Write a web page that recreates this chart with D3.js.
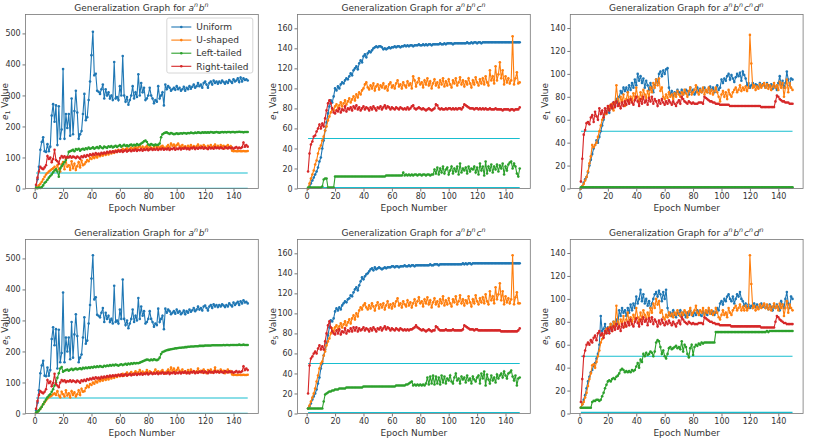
<!DOCTYPE html>
<html>
<head>
<meta charset="utf-8">
<script src="https://cdn.jsdelivr.net/npm/d3@7"></script>
<style>
body { margin: 0; background: #fff; }
svg { display: block; font-family: "DejaVu Sans", sans-serif; }
.tick text { font-size: 8px; fill: #333; }
.tick line { stroke: #555; stroke-width: 0.8; }
</style>
</head>
<body>
<svg id="chart" width="814" height="438"></svg>
<script>
// series order: Uniform, U-shaped, Left-tailed, Right-tailed
const seriesNames = ["Uniform", "U-shaped", "Left-tailed", "Right-tailed"];
const seriesColors = ["#1f77b4", "#ff7f0e", "#2ca02c", "#d62728"];
const trainLimits = [1, 50];

// ---- e1, a^n b^n ----
const uniE1AB = [
  8, 30, 70, 125, 150, 165, 120, 118, 143, 120,
  135, 235, 272, 215, 268, 140, 265, 160, 190, 385,
  160, 240, 195, 240, 170, 290, 175, 250, 315, 245,
  160, 175, 185, 240, 305, 220, 230, 285, 345, 430,
  505, 365, 370, 315, 312, 305, 320, 335, 290, 320,
  300, 310, 290, 300, 285, 408, 290, 295, 285, 330,
  300, 427, 300, 280, 295, 270, 285, 300, 330, 290,
  310, 295, 368, 300, 340, 310, 325, 285, 290, 300,
  325, 300, 290, 275, 285, 280, 330, 290, 300, 310,
  268, 335, 320, 330, 325, 315, 320, 325, 318, 330,
  320, 325, 315, 320, 328, 315, 325, 320, 330, 322,
  328, 335, 325, 330, 340, 330, 335, 325, 340, 345,
  335, 325, 340, 345, 335, 348, 340, 345, 338, 345,
  340, 348, 343, 338, 345, 340, 350, 345, 340, 352,
  345, 348, 355, 343, 358, 345, 355, 350, 352, 348
];
const ushE1AB = [
  2, 5, 10, 15, 22, 30, 38, 45, 50, 55,
  58, 62, 65, 70, 60, 75, 62, 55, 78, 85,
  62, 95, 70, 75, 60, 88, 65, 80, 60, 72,
  85, 68, 90, 75, 78, 85, 92, 88, 98, 95,
  102, 98, 105, 100, 108, 104, 110, 106, 112, 108,
  115, 110, 118, 113, 120, 115, 122, 118, 125, 120,
  123, 128, 122, 126, 130, 124, 128, 132, 126, 130,
  135, 128, 133, 138, 130, 135, 128, 133, 138, 130,
  136, 131, 128, 134, 140, 132, 136, 130, 135, 138,
  132, 128, 135, 140, 133, 145, 138, 142, 135, 140,
  145, 138, 134, 140, 132, 136, 130, 138, 134, 140,
  133, 137, 131, 136, 142, 134, 138, 132, 140, 135,
  130, 138, 134, 140, 132, 136, 142, 134, 138, 132,
  140, 135, 138, 130, 136, 140, 133, 137, 122, 120,
  121, 120, 120, 121, 120, 120, 121, 120, 120, 121
];
const leftE1AB = [
  2, 1, 3, 2, 5, 10, 18, 22, 28, 35,
  40, 45, 52, 58, 62, 55, 38, 65, 72, 78,
  85, 92, 100, 118, 120, 122, 125, 120, 127, 125,
  128, 122, 126, 128, 125, 130, 127, 132, 128, 130,
  133, 128, 131, 134, 130, 136, 132, 130, 135, 133,
  131, 136, 134, 137, 132, 135, 138, 134, 137, 140,
  135, 138, 141, 137, 139, 136, 140, 142, 138, 141,
  139, 143, 140, 142, 145, 148, 152, 155, 150, 142,
  140, 143, 141, 139, 142, 140, 141, 145, 165, 175,
  178, 180, 181, 178, 176, 179, 177, 175, 176, 178,
  176, 177, 178, 177, 179, 178, 177, 179, 178, 180,
  179, 178, 180, 179, 181, 180, 179, 181, 180, 181,
  180, 181, 180, 182, 181, 180, 181, 182, 181, 180,
  181, 182, 181, 182, 181, 182, 182, 181, 182, 182,
  181, 182, 182, 183, 182, 182, 181, 182, 182, 182
];
const rightE1AB = [
  12, 35, 55, 70, 65, 62, 68, 75, 105, 95,
  100, 85, 95, 125, 92, 88, 80, 98, 105, 100,
  104, 98, 102, 100, 104, 99, 103, 101, 98, 103,
  100, 96, 104, 101, 106, 102, 108, 105, 110, 107,
  112, 108, 114, 110, 113, 109, 115, 112, 116, 113,
  118, 115, 119, 116, 120, 117, 121, 118, 122, 119,
  123, 118, 121, 124, 119, 122, 125, 120, 124, 122,
  126, 121, 125, 123, 127, 122, 126, 124, 128, 123,
  126, 129, 124, 127, 125, 129, 124, 128, 126, 130,
  125, 128, 126, 130, 124, 128, 127, 131, 125, 129,
  127, 131, 126, 130, 128, 132, 127, 130, 126, 131,
  129, 133, 127, 131, 128, 132, 130, 134, 128, 132,
  130, 127, 133, 129, 131, 128, 134, 130, 132, 129,
  133, 130, 128, 134, 131, 129, 133, 130, 132, 128,
  131, 134, 129, 132, 130, 133, 148, 135, 140, 135
];

// ---- e1, a^n b^n c^n ----
const uniE1ABC = [
  0, 2, 5, 8, 11, 14, 17, 21, 27, 31,
  40, 48, 58, 66, 75, 82, 88, 86, 92, 100,
  98, 102, 100, 104, 106, 105, 108, 110, 109, 112,
  115, 113, 118, 120, 122, 119, 125, 128, 126, 132,
  134, 131, 135, 137, 136, 138, 140, 141, 142, 141,
  142, 142, 141, 139, 140, 139, 140, 141, 140, 141,
  141, 142, 141, 142, 142, 141, 142, 142, 143, 142,
  143, 142, 143, 143, 142, 143, 143, 143, 144, 143,
  143, 144, 143, 144, 143, 144, 144, 143, 144, 144,
  144, 144, 144, 145, 144, 144, 145, 144, 145, 145,
  145, 145, 144, 145, 145, 145, 145, 145, 145, 145,
  145, 145, 146, 145, 145, 146, 145, 146, 146, 145,
  146, 146, 145, 146, 146, 146, 146, 146, 146, 146,
  146, 146, 146, 146, 146, 146, 146, 146, 146, 146,
  146, 146, 146, 146, 146, 146, 146, 146, 146, 146
];
const ushE1ABC = [
  0, 5, 10, 14, 18, 24, 28, 35, 40, 43,
  48, 52, 58, 62, 68, 72, 76, 80, 78, 82,
  84, 80, 83, 86, 82, 85, 88, 84, 87, 90,
  86, 89, 92, 88, 94, 91, 96, 94, 98, 100,
  104, 106, 101, 99, 103, 100, 105, 98, 102, 104,
  99, 103, 101, 105, 100, 102, 98, 104, 106, 101,
  103, 100, 105, 108, 102, 104, 100, 106, 103, 101,
  107, 103, 105, 100, 112, 108, 102, 106, 110, 104,
  106, 101, 108, 104, 110, 103, 107, 100, 105, 109,
  103, 106, 101, 108, 104, 110, 102, 107, 103, 109,
  104, 101, 108, 105, 110, 103, 106, 111, 104, 108,
  102, 107, 104, 110, 105, 101, 108, 104, 111, 106,
  103, 109, 105, 110, 104, 112, 106, 103, 118, 108,
  112, 105, 122, 108, 114, 126, 110, 118, 104, 112,
  106, 110, 105, 108, 152, 104, 110, 116, 105, 106
];
const leftE1ABC = [
  1, 1, 1, 1, 1, 1, 1, 1, 1, 1,
  2, 9, 10, 10, 1, 1, 1, 1, 1, 12,
  12, 12, 12, 12, 12, 12, 12, 12, 12, 12,
  12, 12, 12, 12, 12, 12, 12, 12, 12, 12,
  12, 12, 12, 12, 12, 12, 12, 12, 12, 12,
  12, 12, 12, 12, 12, 13, 13, 13, 13, 13,
  13, 13, 13, 13, 13, 13, 13, 16, 13, 14,
  13, 14, 13, 14, 13, 14, 14, 13, 14, 14,
  13, 14, 14, 13, 14, 14, 13, 14, 14, 19,
  15, 21, 14, 20, 16, 22, 15, 19, 21, 14,
  18, 22, 15, 20, 17, 22, 14, 25, 16, 20,
  18, 21, 15, 22, 17, 20, 19, 22, 16, 21,
  14, 25, 18, 22, 13, 27, 15, 22, 18, 24,
  16, 22, 19, 24, 17, 23, 20, 25, 14, 22,
  18, 24, 26, 27, 20, 25, 22, 15, 12, 20
];
const rightE1ABC = [
  17, 35, 44, 47, 52, 53, 57, 60, 64, 60,
  65, 62, 70, 78, 85, 88, 85, 80, 76, 75,
  78, 77, 80, 76, 79, 78, 82, 77, 80, 79,
  81, 78, 82, 80, 83, 79, 81, 78, 80, 82,
  79, 81, 80, 78, 81, 79, 82, 80, 78, 81,
  80, 82, 79, 81, 83, 80, 82, 81, 79, 81,
  80, 79, 81, 80, 79, 81, 80, 79, 80, 79,
  81, 79, 80, 82, 83, 80, 79, 80, 81, 80,
  79, 80, 79, 78, 79, 80, 79, 78, 79, 80,
  84, 83, 80, 79, 80, 79, 79, 80, 79, 80,
  80, 79, 80, 79, 80, 79, 80, 80, 79, 81,
  84, 83, 82, 81, 80, 80, 80, 79, 80, 80,
  79, 80, 79, 80, 79, 80, 79, 79, 80, 79,
  79, 79, 80, 79, 79, 79, 79, 78, 79, 79,
  79, 79, 78, 79, 79, 78, 79, 79, 79, 81
];

// ---- e1, a^n b^n c^n d^n ----
const uniE1ABCD = [
  0, 2, 5, 8, 10, 14, 20, 25, 30, 35,
  38, 42, 40, 45, 50, 55, 60, 65, 67, 70,
  66, 72, 70, 75, 72, 78, 75, 80, 85, 83,
  88, 85, 88, 84, 90, 86, 92, 88, 95, 90,
  100, 94, 98, 92, 96, 88, 94, 90, 86, 92,
  88, 84, 90, 95, 92, 100, 102, 98, 103, 100,
  104, 105, 88, 82, 85, 80, 84, 82, 86, 84,
  83, 86, 82, 84, 86, 85, 82, 88, 84, 86,
  82, 84, 88, 85, 87, 84, 86, 88, 85, 84,
  87, 89, 86, 88, 84, 87, 90, 86, 88, 95,
  92, 96, 94, 98, 100, 95, 99, 96, 93, 97,
  100, 98, 101, 94, 102, 99, 96, 90, 92, 88,
  90, 92, 89, 91, 90, 88, 92, 89, 91, 90,
  88, 92, 90, 89, 91, 87, 90, 88, 86, 92,
  98, 90, 94, 88, 92, 102, 95, 90, 96, 95
];
const ushE1ABCD = [
  0, 2, 4, 7, 10, 15, 22, 28, 38, 36,
  38, 40, 45, 50, 55, 60, 62, 66, 65, 70,
  72, 70, 74, 68, 75, 90, 78, 72, 80, 76,
  82, 72, 78, 84, 75, 80, 76, 83, 78, 88,
  80, 76, 84, 78, 86, 82, 79, 85, 80, 88,
  84, 92, 88, 95, 90, 96, 85, 88, 80, 78,
  82, 79, 84, 80, 82, 78, 83, 80, 85, 82,
  80, 84, 82, 86, 83, 80, 85, 88, 82, 84,
  86, 90, 84, 82, 86, 84, 88, 82, 86, 84,
  88, 83, 86, 82, 85, 88, 84, 80, 76, 82,
  85, 80, 84, 78, 86, 82, 80, 84, 86, 88,
  84, 86, 90, 85, 88, 86, 89, 85, 88, 134,
  109, 88, 90, 86, 89, 87, 91, 88, 90, 92,
  88, 91, 87, 90, 86, 89, 92, 88, 90, 86,
  93, 88, 92, 80, 88, 95, 84, 92, 88, 86
];
const leftE1ABCD = [
  1, 1, 1, 1, 1, 1, 1, 1, 1, 1,
  1, 1, 1, 1, 1, 1, 1, 1, 1, 1,
  1, 1, 1, 1, 1, 1, 1, 1, 1, 1,
  1, 1, 1, 1, 1, 1, 1, 1, 1, 1,
  1, 1, 1, 1, 1, 1, 1, 1, 1, 1,
  1, 1, 1, 1, 1, 1, 1, 1, 1, 1,
  1, 1, 1, 1, 1, 1, 1, 1, 1, 1,
  1, 1, 1, 1, 1, 1, 1, 1, 1, 1,
  1, 1, 1, 1, 1, 1, 1, 1, 1, 1,
  1, 1, 1, 1, 1, 1, 1, 1, 1, 1,
  1, 1, 1, 1, 1, 1, 1, 1, 1, 1,
  1, 1, 1, 1, 1, 1, 1, 1, 1, 1,
  1, 1, 1, 1, 1, 1, 1, 1, 1, 1,
  1, 1, 1, 1, 1, 1, 1, 1, 1, 1,
  1, 1, 1, 1, 1, 1, 1, 1, 1, 1
];
const rightE1ABCD = [
  6, 26, 47, 51, 57, 58, 56, 62, 64, 58,
  67, 63, 60, 70, 65, 68, 62, 70, 66, 72,
  68, 73, 70, 75, 71, 76, 72, 74, 70, 75,
  72, 76, 73, 77, 74, 78, 75, 73, 77, 80,
  76, 72, 78, 74, 80, 75, 77, 73, 79, 76,
  80, 74, 78, 76, 72, 77, 74, 78, 75, 73,
  76, 74, 77, 75, 73, 76, 74, 72, 75, 77,
  74, 80, 78, 76, 75, 74, 76, 75, 74, 75,
  74, 74, 74, 75, 75, 75, 74, 80, 79, 78,
  77, 76, 76, 75, 75, 74, 74, 74, 73, 73,
  73, 73, 73, 73, 73, 72, 72, 72, 72, 72,
  72, 72, 72, 72, 72, 72, 72, 72, 72, 72,
  72, 72, 72, 72, 72, 72, 72, 71, 71, 71,
  71, 71, 71, 71, 71, 71, 71, 76, 81, 80,
  78, 77, 76, 76, 75, 75, 75, 74, 74, 74
];

// ---- e5, a^n b^n ----
const uniE5AB = [
  10, 35, 75, 130, 155, 170, 122, 120, 148, 122,
  140, 240, 278, 220, 272, 145, 270, 165, 195, 390,
  165, 245, 200, 245, 175, 295, 180, 255, 320, 250,
  165, 180, 190, 245, 310, 225, 235, 290, 350, 435,
  510, 368, 375, 318, 315, 310, 325, 340, 295, 325,
  305, 315, 295, 305, 290, 412, 295, 300, 290, 335,
  305, 432, 305, 285, 300, 275, 290, 305, 335, 295,
  315, 300, 372, 305, 345, 315, 330, 290, 295, 305,
  330, 305, 295, 280, 290, 285, 338, 295, 305, 315,
  272, 338, 325, 335, 330, 320, 325, 330, 322, 335,
  325, 330, 320, 325, 332, 320, 330, 325, 335, 328,
  333, 340, 330, 335, 345, 335, 340, 332, 345, 348,
  340, 332, 345, 350, 340, 352, 345, 350, 343, 350,
  345, 352, 348, 343, 350, 345, 355, 350, 345, 358,
  350, 355, 360, 350, 362, 355, 365, 358, 360, 355
];
const ushE5AB = [
  2, 5, 10, 16, 22, 30, 36, 42, 48, 52,
  55, 58, 62, 65, 60, 72, 58, 52, 70, 62,
  55, 75, 58, 65, 52, 72, 60, 68, 55, 62,
  75, 60, 80, 70, 72, 82, 90, 85, 95, 92,
  100, 96, 104, 100, 108, 104, 110, 106, 112, 108,
  115, 110, 118, 113, 120, 115, 122, 118, 125, 120,
  123, 128, 122, 126, 132, 124, 128, 134, 126, 130,
  136, 128, 133, 140, 130, 135, 128, 133, 140, 130,
  136, 131, 128, 134, 142, 132, 136, 130, 135, 140,
  132, 128, 135, 142, 133, 148, 138, 145, 135, 140,
  147, 138, 134, 142, 132, 136, 130, 140, 134, 142,
  133, 137, 131, 136, 145, 134, 138, 132, 142, 135,
  130, 140, 134, 142, 132, 136, 148, 134, 138, 132,
  142, 135, 138, 130, 136, 142, 133, 137, 126, 124,
  125, 124, 124, 125, 124, 124, 125, 124, 124, 125
];
const leftE5AB = [
  3, 6, 10, 15, 22, 30, 38, 45, 52, 58,
  62, 70, 78, 90, 100, 115, 130, 145, 150, 135,
  138, 140, 142, 138, 141, 144, 140, 143, 145, 142,
  144, 146, 143, 147, 145, 148, 146, 149, 147, 150,
  148, 151, 149, 152, 150, 153, 151, 150, 154, 152,
  155, 153, 156, 154, 157, 155, 158, 156, 154, 157,
  159, 156, 158, 160, 157, 161, 159, 162, 160, 163,
  161, 163, 162, 164, 166, 168, 170, 172, 174, 173,
  171, 174, 172, 175, 173, 172, 174, 180, 192, 198,
  200, 202, 204, 205, 206, 207, 208, 209, 210, 210,
  211, 212, 212, 213, 213, 214, 214, 215, 215, 216,
  216, 216, 217, 217, 217, 218, 218, 218, 218, 219,
  219, 219, 219, 219, 220, 220, 220, 220, 220, 220,
  220, 220, 221, 220, 221, 221, 220, 221, 221, 221,
  221, 221, 221, 222, 221, 221, 222, 221, 221, 221
];
const rightE5AB = [
  15, 40, 60, 72, 68, 65, 70, 78, 108, 98,
  103, 88, 98, 128, 95, 90, 85, 100, 108, 104,
  107, 101, 105, 103, 107, 102, 106, 104, 101, 106,
  103, 99, 107, 104, 109, 105, 111, 108, 113, 110,
  115, 111, 117, 113, 116, 112, 118, 115, 119, 116,
  121, 118, 122, 119, 123, 120, 124, 121, 125, 122,
  126, 121, 124, 127, 122, 125, 128, 123, 127, 125,
  129, 124, 128, 126, 130, 125, 129, 127, 131, 126,
  129, 132, 127, 130, 128, 132, 127, 131, 129, 133,
  128, 131, 129, 133, 127, 131, 130, 134, 128, 132,
  130, 134, 129, 133, 131, 135, 130, 133, 129, 134,
  132, 136, 130, 134, 131, 135, 133, 137, 131, 135,
  133, 130, 136, 132, 134, 131, 137, 133, 135, 132,
  136, 133, 131, 137, 134, 132, 136, 133, 135, 131,
  134, 137, 132, 135, 133, 136, 152, 140, 145, 140
];

// ---- e5, a^n b^n c^n ----
const uniE5ABC = [
  5, 7, 10, 14, 17, 20, 24, 30, 36, 45,
  50, 58, 64, 70, 78, 86, 93, 92, 95, 102,
  105, 103, 106, 104, 108, 110, 112, 111, 114, 115,
  118, 117, 121, 124, 126, 123, 128, 132, 136, 134,
  137, 139, 140, 142, 144, 145, 143, 146, 144, 145,
  146, 145, 144, 145, 146, 145, 146, 146, 146, 147,
  147, 146, 147, 147, 146, 147, 147, 147, 148, 147,
  147, 148, 147, 148, 148, 147, 148, 148, 148, 148,
  148, 148, 148, 148, 148, 148, 149, 148, 148, 149,
  149, 149, 148, 149, 149, 149, 149, 149, 149, 149,
  149, 149, 149, 149, 149, 149, 149, 149, 149, 150,
  149, 150, 149, 150, 150, 149, 150, 150, 150, 150,
  150, 150, 150, 150, 150, 150, 150, 150, 150, 150,
  150, 150, 150, 150, 150, 150, 150, 150, 150, 150,
  150, 150, 150, 150, 150, 150, 150, 150, 150, 150
];
const ushE5ABC = [
  5, 8, 12, 16, 20, 25, 32, 38, 45, 50,
  52, 58, 62, 68, 72, 75, 80, 85, 82, 86,
  88, 84, 87, 90, 86, 89, 92, 88, 91, 94,
  90, 95, 98, 94, 100, 97, 103, 106, 104, 108,
  110, 106, 104, 108, 105, 110, 107, 103, 108, 111,
  105, 109, 106, 110, 104, 108, 112, 106, 109, 105,
  110, 107, 112, 115, 108, 110, 106, 112, 109, 107,
  113, 108, 111, 106, 110, 114, 108, 112, 116, 110,
  112, 107, 114, 110, 116, 109, 113, 106, 111, 115,
  109, 112, 107, 114, 110, 117, 108, 113, 109, 115,
  110, 107, 114, 111, 117, 109, 112, 118, 110, 114,
  108, 113, 110, 117, 111, 107, 114, 110, 118, 112,
  109, 115, 111, 116, 110, 119, 112, 109, 122, 113,
  117, 110, 126, 114, 119, 130, 113, 122, 109, 117,
  111, 115, 110, 114, 158, 109, 116, 121, 110, 110
];
const leftE5ABC = [
  5, 5, 5, 5, 5, 5, 5, 5, 5, 5,
  5, 12, 19, 20, 21, 22, 22, 23, 23, 24,
  24, 24, 25, 25, 25, 25, 25, 26, 26, 26,
  26, 26, 26, 26, 26, 26, 26, 26, 26, 27,
  27, 27, 27, 27, 27, 27, 27, 27, 27, 27,
  27, 27, 27, 27, 27, 27, 27, 27, 27, 27,
  27, 27, 28, 28, 28, 28, 28, 28, 28, 29,
  29, 30, 31, 32, 28, 29, 28, 29, 28, 29,
  28, 29, 28, 30, 36, 29, 37, 30, 38, 29,
  37, 30, 36, 29, 38, 31, 37, 30, 35, 33,
  38, 32, 30, 36, 40, 33, 35, 30, 37, 34,
  36, 31, 38, 33, 35, 30, 37, 34, 32, 36,
  38, 30, 40, 35, 42, 28, 39, 34, 30, 38,
  33, 36, 31, 39, 35, 38, 40, 36, 42, 38,
  35, 40, 41, 43, 37, 33, 38, 28, 35, 36
];
const rightE5ABC = [
  20, 48, 55, 57, 60, 62, 60, 65, 68, 64,
  67, 64, 72, 80, 88, 92, 86, 82, 80, 79,
  83, 80, 84, 79, 82, 81, 85, 80, 83, 82,
  85, 82, 86, 83, 86, 82, 85, 83, 84, 86,
  83, 85, 84, 82, 85, 83, 86, 84, 82, 85,
  84, 86, 83, 85, 87, 84, 86, 85, 83, 85,
  84, 83, 85, 84, 83, 85, 84, 83, 84, 83,
  84, 83, 84, 84, 85, 86, 88, 86, 85, 84,
  83, 84, 83, 82, 83, 84, 83, 82, 83, 83,
  87, 86, 84, 83, 83, 83, 83, 84, 83, 83,
  83, 83, 84, 83, 83, 83, 83, 83, 83, 84,
  88, 87, 86, 85, 84, 84, 84, 83, 84, 84,
  83, 83, 83, 83, 83, 83, 83, 83, 83, 83,
  83, 83, 83, 83, 83, 83, 82, 82, 82, 82,
  82, 82, 82, 82, 82, 82, 82, 82, 83, 85
];

// ---- e5, a^n b^n c^n d^n ----
const uniE5ABCD = [
  5, 8, 12, 16, 22, 28, 32, 36, 38, 42,
  44, 48, 52, 60, 85, 72, 74, 78, 70, 75,
  72, 78, 74, 80, 76, 82, 78, 90, 85, 92,
  88, 90, 85, 92, 88, 95, 90, 96, 92, 102,
  96, 100, 108, 98, 104, 96, 100, 94, 98, 92,
  96, 100, 104, 106, 102, 107, 104, 98, 106, 100,
  108, 92, 86, 88, 85, 90, 86, 84, 88, 86,
  90, 85, 88, 86, 84, 88, 86, 90, 87, 85,
  88, 86, 90, 88, 86, 85, 89, 87, 88, 86,
  90, 88, 87, 89, 86, 88, 92, 90, 96, 98,
  95, 100, 98, 102, 104, 100, 98, 102, 96, 100,
  104, 102, 106, 100, 98, 94, 96, 92, 95, 92,
  94, 92, 96, 93, 95, 92, 94, 96, 93, 95,
  92, 94, 91, 95, 93, 90, 94, 92, 95, 93,
  90, 98, 95, 92, 100, 106, 96, 92, 102, 100
];
const ushE5ABCD = [
  5, 8, 10, 14, 18, 24, 30, 35, 42, 43,
  40, 45, 50, 55, 62, 65, 68, 70, 74, 72,
  75, 78, 72, 80, 76, 94, 80, 76, 82, 78,
  85, 76, 82, 88, 80, 84, 78, 86, 82, 92,
  84, 80, 88, 82, 90, 86, 82, 88, 84, 92,
  88, 96, 92, 100, 95, 98, 88, 90, 84, 82,
  86, 84, 88, 85, 87, 84, 88, 86, 90, 87,
  85, 88, 86, 90, 88, 84, 89, 92, 86, 88,
  90, 94, 88, 86, 90, 88, 92, 86, 90, 88,
  92, 87, 90, 86, 88, 92, 88, 84, 82, 86,
  90, 86, 88, 84, 92, 88, 86, 90, 92, 94,
  90, 92, 95, 90, 93, 90, 94, 90, 92, 138,
  113, 92, 94, 90, 93, 91, 95, 92, 94, 96,
  92, 95, 91, 94, 90, 93, 96, 92, 94, 90,
  96, 92, 95, 85, 92, 98, 88, 95, 92, 90
];
const leftE5ABCD = [
  5, 5, 5, 5, 5, 5, 5, 5, 10, 11,
  11, 12, 12, 11, 12, 15, 18, 22, 25, 28,
  29, 28, 30, 31, 30, 32, 33, 35, 38, 39,
  38, 36, 37, 36, 37, 36, 38, 37, 38, 41,
  44, 40, 47, 45, 52, 50, 53, 51, 52, 54,
  53, 50, 54, 62, 64, 63, 58, 52, 55, 50,
  48, 52, 57, 58, 56, 57, 58, 59, 57, 58,
  56, 63, 54, 60, 58, 52, 49, 57, 60, 51,
  58, 60, 59, 61, 60, 62, 61, 62, 62, 62,
  62, 62, 62, 62, 62, 71, 71, 71, 71, 71,
  71, 71, 71, 71, 71, 71, 71, 71, 71, 71,
  71, 71, 71, 71, 71, 71, 71, 71, 71, 71,
  71, 71, 71, 71, 71, 71, 71, 71, 71, 71,
  71, 72, 71, 72, 72, 72, 72, 72, 72, 72,
  72, 72, 72, 72, 72, 72, 72, 72, 72, 72
];
const rightE5ABCD = [
  10, 30, 50, 55, 60, 62, 60, 64, 62, 66,
  68, 64, 70, 72, 68, 70, 66, 72, 70, 74,
  70, 75, 72, 76, 73, 78, 74, 76, 72, 78,
  75, 79, 76, 80, 77, 82, 78, 76, 80, 83,
  79, 76, 82, 78, 84, 80, 82, 77, 83, 80,
  84, 78, 82, 80, 76, 81, 78, 82, 79, 77,
  80, 78, 81, 79, 77, 80, 78, 76, 79, 81,
  78, 84, 82, 80, 79, 78, 80, 79, 78, 79,
  78, 78, 78, 79, 79, 79, 78, 84, 83, 82,
  81, 80, 80, 79, 79, 78, 78, 78, 77, 77,
  77, 77, 77, 77, 77, 77, 76, 76, 76, 76,
  76, 76, 76, 76, 76, 76, 76, 76, 76, 76,
  76, 76, 76, 76, 76, 76, 76, 75, 75, 75,
  75, 75, 75, 75, 75, 75, 75, 80, 85, 84,
  82, 81, 80, 79, 79, 78, 78, 78, 78, 78
];

const xTicks = [0, 20, 40, 60, 80, 100, 120, 140];
const yTicksByCol = [
  [0, 100, 200, 300, 400, 500],
  [0, 20, 40, 60, 80, 100, 120, 140, 160],
  [0, 20, 40, 60, 80, 100, 120, 140]
];

const panels = [
  { col: 0, row: 0, letters: ["a", "b"], sub: "1", series: [uniE1AB, ushE1AB, leftE1AB, rightE1AB], legend: true },
  { col: 1, row: 0, letters: ["a", "b", "c"], sub: "1", series: [uniE1ABC, ushE1ABC, leftE1ABC, rightE1ABC] },
  { col: 2, row: 0, letters: ["a", "b", "c", "d"], sub: "1", series: [uniE1ABCD, ushE1ABCD, leftE1ABCD, rightE1ABCD] },
  { col: 0, row: 1, letters: ["a", "b"], sub: "5", series: [uniE5AB, ushE5AB, leftE5AB, rightE5AB] },
  { col: 1, row: 1, letters: ["a", "b", "c"], sub: "5", series: [uniE5ABC, ushE5ABC, leftE5ABC, rightE5ABC] },
  { col: 2, row: 1, letters: ["a", "b", "c", "d"], sub: "5", series: [uniE5ABCD, ushE5ABCD, leftE5ABCD, rightE5ABCD] }
];

// layout
const colLeft = [25.5, 297.5, 570.3];
const rowTop = [14.5, 239.5];
const pw = 232.8, ph = 174;
// y label offset; the first column has no room, keep it just inside the page
const yLabelOffset = [-17.6, -22, -22];

// the y range is shared down each column
const colMax = [0, 1, 2].map(c =>
    d3.max(panels.filter(p => p.col == c), p => d3.max(p.series, s => d3.max(s))) * 1.1);

const svg = d3.select("#chart");

panels.forEach(p => {
    const left = colLeft[p.col], top = rowTop[p.row];
    const g = svg.append("g").attr("transform", "translate(" + left + "," + top + ")");

    const n = p.series[0].length;
    const epochs = d3.range(1, n + 1);
    const x = d3.scaleLinear().domain([1 - 0.05 * (n - 1), n + 0.05 * (n - 1)]).range([0, pw]);
    const y = d3.scaleLinear().domain([0, colMax[p.col]]).range([ph, 0]);

    // axes
    const xa = g.append("g").attr("transform", "translate(0," + ph + ")")
        .call(d3.axisBottom(x).tickValues(xTicks).tickSize(3).tickPadding(1.6));
    const ya = g.append("g")
        .call(d3.axisLeft(y).tickValues(yTicksByCol[p.col]).tickSize(3).tickPadding(1.8));
    xa.select(".domain").remove();
    ya.select(".domain").remove();
    xa.attr("font-family", null);
    ya.attr("font-family", null);

    // training range lines
    trainLimits.forEach(v => {
        g.append("line")
            .attr("x1", x(1)).attr("x2", x(n))
            .attr("y1", y(v)).attr("y2", y(v))
            .attr("stroke", "#17becf").attr("stroke-width", 1.1);
    });

    const line = d3.line().x((d, i) => x(epochs[i])).y(d => y(d));

    p.series.forEach((s, si) => {
        g.append("path")
            .datum(s)
            .attr("d", line)
            .attr("fill", "none")
            .attr("stroke", seriesColors[si])
            .attr("stroke-width", 1.1);
        g.append("g").selectAll("circle")
            .data(s)
            .enter().append("circle")
            .attr("cx", (d, i) => x(epochs[i]))
            .attr("cy", d => y(d))
            .attr("r", 1.3)
            .attr("fill", seriesColors[si]);
    });

    // frame
    g.append("rect")
        .attr("width", pw).attr("height", ph)
        .attr("fill", "none").attr("stroke", "#777").attr("stroke-width", 0.8);

    // title
    const t = g.append("text")
        .attr("x", pw / 2).attr("y", -3.6)
        .attr("text-anchor", "middle")
        .attr("font-size", "9px").attr("fill", "#333")
        .text("Generalization Graph for ");
    p.letters.forEach(l => {
        t.append("tspan").attr("font-style", "italic").attr("dy", 0).text(l);
        t.append("tspan").attr("font-style", "italic").attr("font-size", "6.3px")
            .attr("dy", -3.5).text("n");
        t.append("tspan").attr("dy", 3.5).text("\u200a");
    });

    // x label
    g.append("text")
        .attr("x", pw / 2).attr("y", ph + 22)
        .attr("text-anchor", "middle")
        .attr("font-size", "9px").attr("fill", "#333")
        .text("Epoch Number");

    // y label
    const yl = g.append("text")
        .attr("transform", "translate(" + yLabelOffset[p.col] + "," + (ph / 2) + ") rotate(-90)")
        .attr("text-anchor", "middle")
        .attr("font-size", "9px").attr("fill", "#333");
    yl.append("tspan").attr("font-style", "italic").text("e");
    yl.append("tspan").attr("font-size", "6.3px").attr("dy", 2).text(p.sub);
    yl.append("tspan").attr("dy", -2).text(" Value");

    if (p.legend) {
        const lg = g.append("g").attr("transform", "translate(" + (pw - 91.5) + ",3.5)");
        lg.append("rect")
            .attr("width", 86).attr("height", 55).attr("rx", 2)
            .attr("fill", "#fff").attr("fill-opacity", 0.8)
            .attr("stroke", "#ccc").attr("stroke-width", 0.8);
        seriesNames.forEach((name, i) => {
            const yy = 9 + i * 13.1;
            lg.append("line")
                .attr("x1", 4.5).attr("x2", 24.5).attr("y1", yy).attr("y2", yy)
                .attr("stroke", seriesColors[i]).attr("stroke-width", 1.1);
            lg.append("circle")
                .attr("cx", 14.5).attr("cy", yy).attr("r", 1.3)
                .attr("fill", seriesColors[i]);
            lg.append("text")
                .attr("x", 29.5).attr("y", yy + 3.2)
                .attr("font-size", "9px").attr("fill", "#333")
                .text(name);
        });
    }
});
</script>
</body>
</html>
